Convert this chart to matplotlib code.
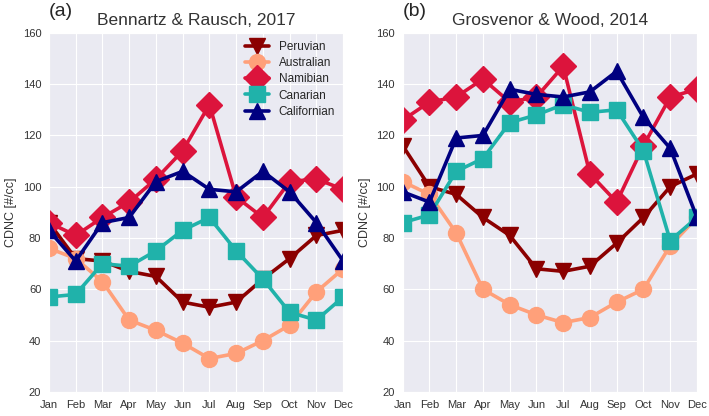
import numpy as np
import matplotlib

matplotlib.use("Agg")
import matplotlib.pyplot as plt
import seaborn as sns

sns.set_style("darkgrid")
plt.rcParams["font.family"] = ["Liberation Sans", "DejaVu Sans"]

months = ["Jan", "Feb", "Mar", "Apr", "May", "Jun", "Jul", "Aug", "Sep", "Oct", "Nov", "Dec"]
regions = ["Peruvian", "Australian", "Namibian", "Canarian", "Californian"]

# panel (a): Bennartz & Rausch, 2017
br_peruvian = [86, 72, 71, 67, 65, 55, 53, 55, 64, 72, 81, 83]
br_australian = [76, 72, 63, 48, 44, 39, 33, 35, 40, 46, 59, 68]
br_namibian = [86, 81, 88, 94, 103, 114, 132, 96, 88, 102, 103, 99]
br_canarian = [57, 58, 70, 69, 75, 83, 88, 75, 64, 51, 48, 57]
br_californian = [83, 71, 86, 88, 102, 106, 99, 98, 106, 98, 86, 71]

# panel (b): Grosvenor & Wood, 2014
gw_peruvian = [116, 100, 97, 88, 81, 68, 67, 69, 78, 88, 100, 105]
gw_australian = [102, 97, 82, 60, 54, 50, 47, 49, 55, 60, 77, 88]
gw_namibian = [126, 133, 135, 142, 133, 135, 147, 105, 94, 116, 135, 138]
gw_canarian = [86, 89, 106, 111, 125, 128, 132, 129, 130, 114, 79, 88]
gw_californian = [98, 94, 119, 120, 138, 136, 135, 137, 145, 127, 115, 88]

styles = {
    "Peruvian": ("#8B0000", "v"),
    "Australian": ("#FFA07A", "o"),
    "Namibian": ("#DC143C", "D"),
    "Canarian": ("#20B2AA", "s"),
    "Californian": ("#000080", "^"),
}

fig = plt.figure(figsize=(7.09, 4.16), dpi=100)
ax_a = fig.add_axes([0.069, 0.058, 0.415, 0.863])
ax_b = fig.add_axes([0.568, 0.058, 0.415, 0.863])

panels = [
    (ax_a, "Bennartz & Rausch, 2017", "(a)",
     [br_peruvian, br_australian, br_namibian, br_canarian, br_californian]),
    (ax_b, "Grosvenor & Wood, 2014", "(b)",
     [gw_peruvian, gw_australian, gw_namibian, gw_canarian, gw_californian]),
]

x = np.arange(len(months))
for ax, title, tag, series in panels:
    for name, vals in zip(regions, series):
        color, marker = styles[name]
        ms = 13 if marker == "D" else 11.5
        ax.plot(x, vals, color=color, marker=marker, markersize=ms,
                linewidth=2.6, label=name)
    ax.set_xlim(0, 11)
    ax.set_ylim(20, 160)
    ax.set_xticks(x)
    ax.set_xticklabels(months)
    ax.set_yticks(range(20, 161, 20))
    ax.tick_params(labelsize=8, colors="#333333", pad=2)
    ax.set_ylabel("CDNC [#/cc]", fontsize=9, color="#333333", labelpad=4)
    ax.set_title(title, fontsize=12.5, color="#333333", pad=6)
    ax.text(0.0, 1.035, tag, transform=ax.transAxes, fontsize=14, va="bottom")

ax_a.legend(loc="upper right", frameon=False, fontsize=8.5, handlelength=2,
            borderaxespad=0.3, labelspacing=0.35)

plt.savefig("out.png", dpi=100)
plt.close()
